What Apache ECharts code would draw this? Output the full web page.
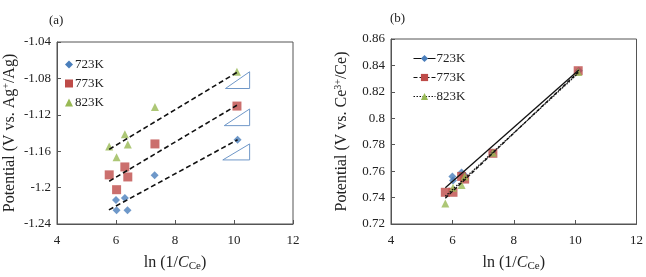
<!DOCTYPE html>
<html>
<head>
<meta charset="utf-8">
<script src="https://cdn.jsdelivr.net/npm/echarts@6/dist/echarts.min.js"></script>
<style>
  html, body { margin: 0; padding: 0; background: #fff; }
  #chart { width: 646px; height: 277px; }
</style>
</head>
<body>
<div id="chart"></div>
<script>
// temperatures (legend names)
const seriesNames = ['723K', '773K', '823K']
const colors = ['#4a7ebb', '#be4b48', '#98b954']
const symbols = ['diamond', 'rect', 'triangle']

// x values, ln(1/C_Ce)
const x723 = [6.00, 6.02, 6.30, 6.39, 7.31, 10.12]
const x773 = [5.77, 6.02, 6.30, 6.40, 7.32, 10.10]
const x823 = [5.77, 6.02, 6.30, 6.40, 7.32, 10.10]

// panel (a): potential vs Ag+/Ag
const yA723 = [-1.2136, -1.2248, -1.2115, -1.2250, -1.1865, -1.1474]
const yA773 = [-1.1860, -1.2023, -1.1773, -1.1883, -1.1520, -1.1104]
const yA823 = [-1.1548, -1.1667, -1.1414, -1.1527, -1.1115, -1.0727]

// panel (a): dashed trend lines (end points)
const fitXA723 = [5.76, 10.12], fitYA723 = [-1.2245, -1.1474]
const fitXA773 = [5.77, 10.10], fitYA773 = [-1.1930, -1.1095]
const fitXA823 = [5.77, 10.12], fitYA823 = [-1.1580, -1.0730]

// panel (a): slope triangles
const triX1 = [9.71, 10.53, 10.53, 9.71], triY1 = [-1.0911, -1.0911, -1.0727, -1.0911]
const triX2 = [9.67, 10.53, 10.53, 9.67], triY2 = [-1.1319, -1.1319, -1.1136, -1.1319]
const triX3 = [9.62, 10.53, 10.53, 9.62], triY3 = [-1.1696, -1.1696, -1.1520, -1.1696]

// panel (b): potential vs Ce3+/Ce
const yB723 = [0.7560, 0.7530, 0.7590, 0.7570, 0.7740, 0.8360]
const yB773 = [0.7440, 0.7440, 0.7560, 0.7540, 0.7735, 0.8360]
const yB823 = [0.7355, 0.7475, 0.7495, 0.7560, 0.7740, 0.8350]

// panel (b): trend lines
const fitXB723 = [5.77, 10.12], fitYB723 = [0.7475, 0.8365]
const fitXB773 = [5.77, 10.10], fitYB773 = [0.7395, 0.8350]
const fitXB823 = [5.77, 10.10], fitYB823 = [0.7410, 0.8340]

// axis ticks
const xTicks = { min: 4, max: 12, interval: 2 }
const yTicksA = { min: -1.24, max: -1.04, interval: 0.04 }
const yTicksB = { min: 0.72, max: 0.86, interval: 0.02 }

const zip = (xs, ys) => xs.map((x, i) => [x, ys[i]])

const serif = '"Liberation Serif", "DejaVu Serif", serif'
const textColor = '#222'

const xName = {
    name: 'ln (1/{i|C}{sub|Ce})',
    nameLocation: 'middle',
    nameGap: 30,
    nameTextStyle: {
        fontFamily: serif, fontSize: 16, color: textColor, lineHeight: 18,
        rich: {
            i: { fontFamily: serif, fontSize: 16, fontStyle: 'italic', color: textColor, lineHeight: 18 },
            sub: { fontFamily: serif, fontSize: 11, color: textColor, lineHeight: 11, verticalAlign: 'bottom' }
        }
    }
}

function yName(text, gap) {
    return {
        name: text,
        nameLocation: 'middle',
        nameGap: gap,
        nameTextStyle: {
            fontFamily: serif, fontSize: 16, color: textColor, lineHeight: 18,
            rich: {
                sup: { fontFamily: serif, fontSize: 10, color: textColor, lineHeight: 10, verticalAlign: 'top' }
            }
        }
    }
}

const axisCommon = {
    axisLine: { show: true, lineStyle: { color: '#555', width: 1 } },
    axisTick: { show: true, inside: true, length: 4, lineStyle: { color: '#555' } },
    splitLine: { show: false },
    axisLabel: { fontFamily: serif, fontSize: 13, color: textColor }
}

const chart = echarts.init(document.getElementById('chart'), null, { renderer: 'canvas' })

const series = []

// panel (b) trend lines first so the (b) legend picks up their line + symbol icons
const fitsB = [[fitXB723, fitYB723], [fitXB773, fitYB773], [fitXB823, fitYB823]]
const dashB = ['solid', [4, 2], [1.5, 1.5]]
fitsB.forEach((f, i) => {
    series.push({
        name: seriesNames[i],
        type: 'line',
        xAxisIndex: 1, yAxisIndex: 1,
        data: zip(f[0], f[1]),
        symbol: symbols[i],
        symbolSize: 8,
        showSymbol: false,
        itemStyle: { color: colors[i] },
        lineStyle: { color: '#111', width: 1.3, type: dashB[i] },
        silent: true,
        z: 3
    })
})

const pointsA = [[x723, yA723], [x773, yA773], [x823, yA823]]
const pointsB = [[x723, yB723], [x773, yB773], [x823, yB823]]
const sizes = [8, 9, 8]
pointsA.forEach((p, i) => {
    series.push({
        name: seriesNames[i], type: 'scatter', xAxisIndex: 0, yAxisIndex: 0,
        data: zip(p[0], p[1]), symbol: symbols[i], symbolSize: sizes[i],
        itemStyle: { color: colors[i] }, z: 2
    })
})
pointsB.forEach((p, i) => {
    series.push({
        name: seriesNames[i], type: 'scatter', xAxisIndex: 1, yAxisIndex: 1,
        data: zip(p[0], p[1]), symbol: symbols[i], symbolSize: sizes[i],
        itemStyle: { color: colors[i] }, z: 2
    })
})

const fitsA = [[fitXA723, fitYA723], [fitXA773, fitYA773], [fitXA823, fitYA823]]
fitsA.forEach((f, i) => {
    series.push({
        type: 'line', xAxisIndex: 0, yAxisIndex: 0,
        data: zip(f[0], f[1]), showSymbol: false, symbol: 'none',
        lineStyle: { color: '#111', width: 1.6, type: [5, 3] },
        silent: true, z: 3
    })
})

const tris = [[triX1, triY1], [triX2, triY2], [triX3, triY3]]
tris.forEach((t) => {
    series.push({
        type: 'line', xAxisIndex: 0, yAxisIndex: 0,
        data: zip(t[0], t[1]), showSymbol: false, symbol: 'none',
        lineStyle: { color: '#6f97c8', width: 1 },
        silent: true, z: 1
    })
})

chart.setOption({
    backgroundColor: '#fff',
    animation: false,
    title: [
        { text: '(a)', left: 44, top: 9, textStyle: { fontFamily: serif, fontSize: 13, fontWeight: 'normal', color: textColor } },
        { text: '(b)', left: 385, top: 7, textStyle: { fontFamily: serif, fontSize: 13, fontWeight: 'normal', color: textColor } }
    ],
    grid: [
        { left: 53, top: 42, width: 240, height: 190, show: true, borderColor: '#555', borderWidth: 1 },
        { left: 391, top: 39, width: 246, height: 194, show: true, borderColor: '#555', borderWidth: 1 }
    ],
    legend: [
        {
            data: seriesNames.map((n, i) => ({ name: n, icon: symbols[i] })),
            orient: 'vertical', left: 60, top: 53, itemGap: 6,
            itemWidth: 8, itemHeight: 8,
            textStyle: { fontFamily: serif, fontSize: 13, color: textColor, padding: [0, 0, 0, -3] }
        },
        {
            data: seriesNames,
            orient: 'vertical', left: 408, top: 47, itemGap: 6,
            itemWidth: 22, itemHeight: 9,
            lineStyle: { width: 1 },
            textStyle: { fontFamily: serif, fontSize: 13, color: textColor, padding: [0, 0, 0, -4] }
        }
    ],
    xAxis: [
        Object.assign({ type: 'value', gridIndex: 0 }, xTicks, axisCommon, xName,
            { axisLabel: { fontFamily: serif, fontSize: 13, color: textColor, margin: 10 } }),
        Object.assign({ type: 'value', gridIndex: 1 }, xTicks, axisCommon, xName,
            { axisLabel: { fontFamily: serif, fontSize: 13, color: textColor, margin: 10 } })
    ],
    yAxis: [
        Object.assign({ type: 'value', gridIndex: 0 }, yTicksA, axisCommon,
            yName('Potential (V vs. Ag{sup|+}/Ag)', 38),
            { axisLabel: { fontFamily: serif, fontSize: 13, color: textColor, margin: 6 } }),
        Object.assign({ type: 'value', gridIndex: 1 }, yTicksB, axisCommon,
            yName('Potential (V vs. Ce{sup|3+}/Ce)', 40),
            { axisLabel: { fontFamily: serif, fontSize: 13, color: textColor, margin: 6 } })
    ],
    series: series
})
</script>
</body>
</html>
